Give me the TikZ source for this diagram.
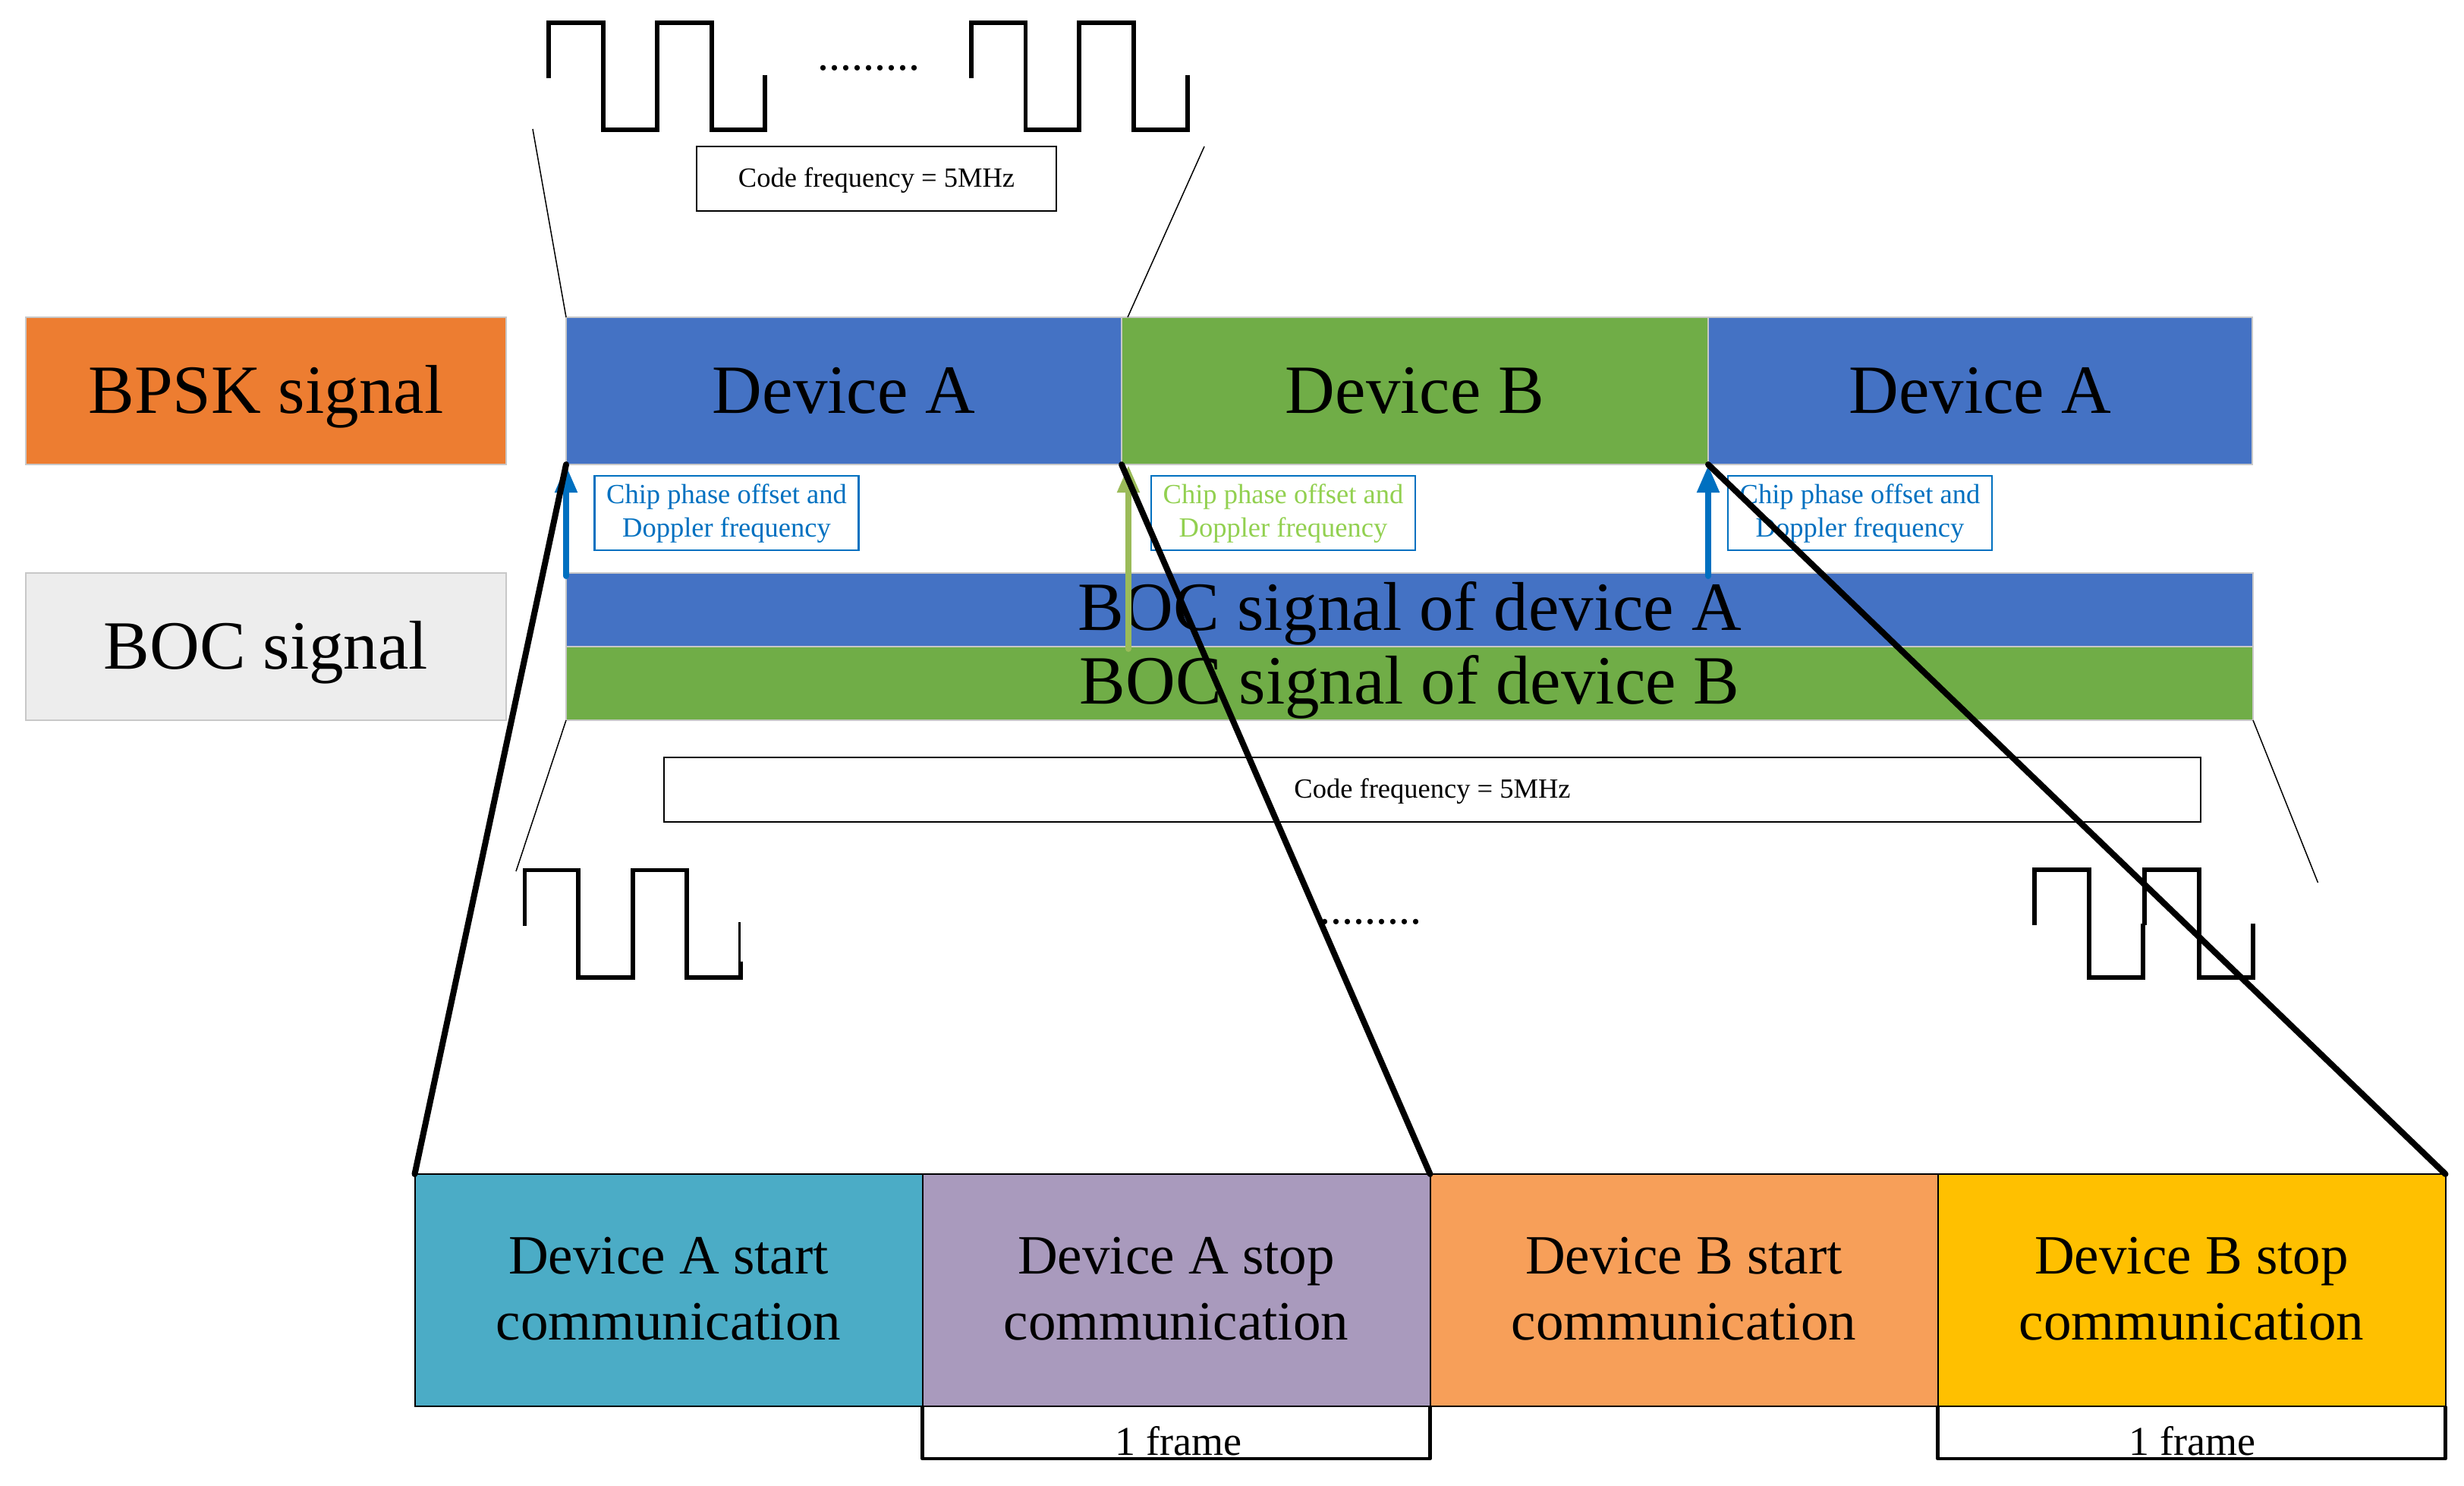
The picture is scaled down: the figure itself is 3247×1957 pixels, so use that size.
\documentclass[tikz,border=0pt]{standalone}
\usepackage{fontspec}
\setmainfont{Liberation Serif}
\usetikzlibrary{arrows.meta}
\definecolor{cblue}{HTML}{4472C4}
\definecolor{cgreen}{HTML}{70AD47}
\definecolor{corange}{HTML}{ED7D31}
\definecolor{cgrey}{HTML}{EDEDED}
\definecolor{cedge}{HTML}{C8C8C8}
\definecolor{cteal}{HTML}{4BACC6}
\definecolor{cpurple}{HTML}{A99ABD}
\definecolor{cpeach}{HTML}{F79F59}
\definecolor{cgold}{HTML}{FFC000}
\definecolor{linkblue}{HTML}{0070C0}
\definecolor{linkgreen}{HTML}{9BBB59}
\definecolor{textgreen}{HTML}{92D050}
\tikzset{
  anynode/.style={inner sep=0pt,outer sep=0pt,align=center},
  bar/.style={anynode,draw=cedge,line width=1.5pt,minimum height=194pt,font=\fontsize{91}{100}\selectfont,text height=62pt,text depth=4pt},
  bocbar/.style={anynode,draw=cedge,line width=1.5pt,minimum width=2223pt,minimum height=97pt,font=\fontsize{91}{100}\selectfont,text height=62pt,text depth=9pt},
  stepbox/.style={anynode,draw=black,line width=2pt,minimum width=669pt,minimum height=306pt,font=\fontsize{73}{87}\selectfont,text height=147pt,text depth=17pt},
  chipbox/.style={anynode,draw=linkblue,line width=2.5pt,fill=none,minimum width=348pt,minimum height=98pt,font=\fontsize{36.5}{44}\selectfont,text height=69pt,text depth=7pt},
  codebox/.style={anynode,draw=black,line width=2.5pt,fill=white,minimum height=85pt,font=\fontsize{36.5}{44}\selectfont,text height=25pt,text depth=4pt},
  framelabel/.style={anynode,anchor=base,font=\fontsize{54}{60}\selectfont},
  dotlabel/.style={anynode,anchor=base,font=\fontsize{60}{66}\selectfont},
  wave/.style={draw=black,line width=5.5pt},
  thinline/.style={draw=black,line width=1.5pt},
  zoomline/.style={draw=black,line width=8pt,line cap=round},
  offsetarrow/.style={line width=8pt,line cap=round,-{Stealth[length=36pt,width=28pt,inset=0pt]}},
  bracket/.style={draw=black,line width=4.5pt,line join=round}
}
\begin{document}
\begin{tikzpicture}[x=1pt,y=-1pt]
\useasboundingbox (0,0) rectangle (3247,1957);
% left labels
\node[bar,fill=corange,minimum width=633pt] (bpsk) at (350.5,515) {BPSK signal};
\node[bar,fill=cgrey,minimum width=633pt] (boc) at (350.5,852) {BOC signal};
% BPSK bars
\node[bar,fill=cblue,minimum width=732pt] (a1) at (1112,515) {Device A};
\node[bar,fill=cgreen,minimum width=773pt] (b1) at (1864.5,515) {Device B};
\node[bar,fill=cblue,minimum width=717pt] (a2) at (2609.5,515) {Device A};
% BOC bars
\node[bocbar,fill=cblue] (boca) at (1857.5,803.5) {BOC signal of device A};
\node[bocbar,fill=cgreen] (bocb) at (1857.5,900.5) {BOC signal of device B};
% chip boxes
\node[chipbox,text=linkblue] (c1) at (957.5,676) {Chip phase offset and\\Doppler frequency};
\node[chipbox,text=textgreen] (c2) at (1691,676) {Chip phase offset and\\Doppler frequency};
\node[chipbox,text=linkblue] (c3) at (2451,676) {Chip phase offset and\\Doppler frequency};
% offset arrows
\coordinate (s1) at (746,759);
\coordinate (e1) at (746,613);
\coordinate (s2) at (1487,855);
\coordinate (e2) at (1487,613);
\coordinate (s3) at (2251,759);
\coordinate (e3) at (2251,613);
\draw[offsetarrow,linkblue] (s1) -- (e1);
\draw[offsetarrow,linkgreen] (s2) -- (e2);
\draw[offsetarrow,linkblue] (s3) -- (e3);
% code boxes
\node[codebox,minimum width=474pt] (code1) at (1155,235.5) {Code frequency = 5MHz};
\node[codebox,minimum width=2025pt] (code2) at (1887.5,1040.5) {Code frequency = 5MHz};
% waveforms
\draw[wave] (723,103) -- (723,30) -- (795,30) -- (795,171) -- (866,171) -- (866,30) -- (938,30) -- (938,171) -- (1008,171) -- (1008,99);
\draw[wave] (1280,103) -- (1280,30) -- (1351.5,30) -- (1351.5,171) -- (1422,171) -- (1422,30) -- (1494,30) -- (1494,171) -- (1565,171) -- (1565,99);
\draw[wave] (691.5,1219.5) -- (691.5,1146.5) -- (762,1146.5) -- (762,1288) -- (834,1288) -- (834,1146.5) -- (905,1146.5) -- (905,1288) -- (976,1288) -- (976,1267);
\draw[thinline,line width=2.5pt] (974.5,1267) -- (974.5,1215);
\draw[wave] (2681,1219) -- (2681,1146) -- (2753,1146) -- (2753,1288) -- (2824,1288) -- (2824,1217);
\draw[wave] (2826,1219) -- (2826,1146) -- (2898,1146) -- (2898,1288) -- (2969,1288) -- (2969,1217);
\node[dotlabel] (dots1) at (1145,92) {.........};
\node[dotlabel] (dots2) at (1806,1217) {.........};
% thin zoom guides
\coordinate (t1) at (702,170);
\coordinate (t2) at (1587,193);
\coordinate (t5) at (1486,418);
\coordinate (t3) at (680,1148);
\coordinate (t4) at (3054.5,1163);
\draw[thinline] (t1) -- (a1.north west);
\draw[thinline] (t2) -- (t5);
\draw[thinline] (t3) -- (bocb.south west);
\draw[thinline] (t4) -- (bocb.south east);
% step boxes
\node[stepbox,fill=cteal] (sa) at (881,1700) {Device A start\\communication};
\node[stepbox,fill=cpurple] (pa) at (1550,1700) {Device A stop\\communication};
\node[stepbox,fill=cpeach] (sb) at (2219,1700) {Device B start\\communication};
\node[stepbox,fill=cgold] (pb) at (2888,1700) {Device B stop\\communication};
% thick zoom lines
\draw[zoomline] (a1.south west) -- (sa.north west);
\draw[zoomline] (a1.south east) -- (pa.north east);
\draw[zoomline] (a2.south west) -- (pb.north east);
% frame brackets
\draw[bracket] (pa.south west) -- ++(0,69) -| (pa.south east);
\draw[bracket] (pb.south west) -- ++(0,69) -| (pb.south east);
\node[framelabel] (f1) at (1553,1917) {1 frame};
\node[framelabel] (f2) at (2889,1917) {1 frame};
\end{tikzpicture}
\end{document}
